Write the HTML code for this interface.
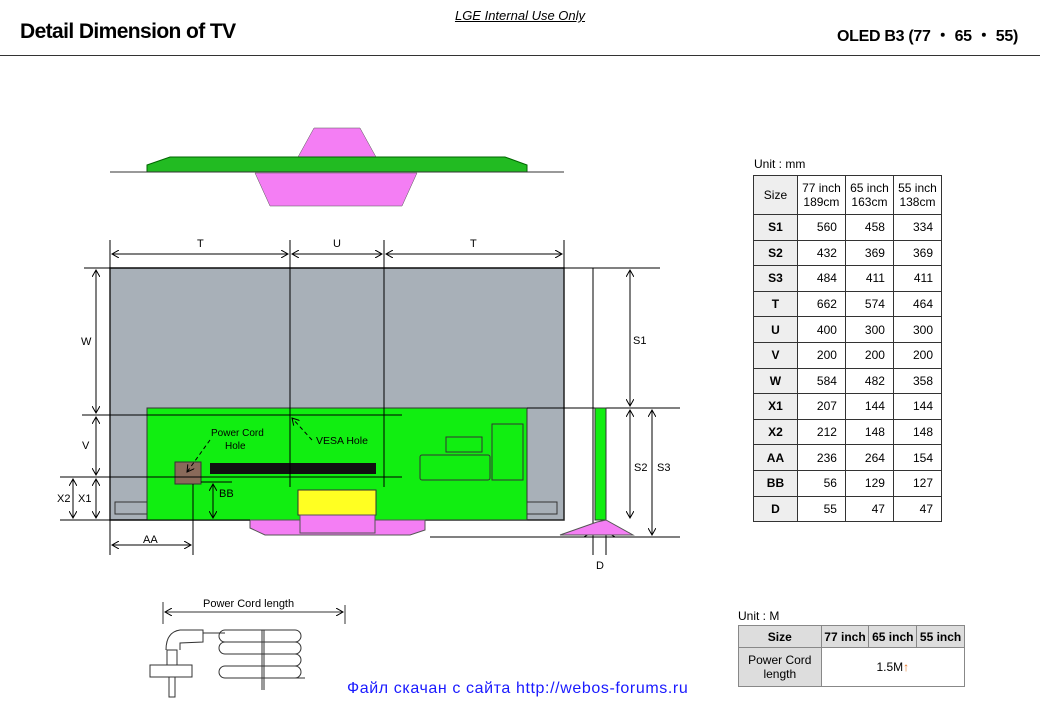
<!DOCTYPE html>
<html><head><meta charset="utf-8"><style>
body{margin:0;width:1040px;height:702px;background:#fff;position:relative;overflow:hidden;font-family:"Liberation Sans",sans-serif}
.a{position:absolute}
table{border-collapse:collapse;position:absolute;font-size:12px;font-family:"Liberation Sans",sans-serif}
td{border:1.5px solid #333;padding:0;text-align:center}
.t1 td{height:24.6px}
.t1 td.n{text-align:right;padding-right:8px}
.g{background:#eee;font-weight:bold}
</style></head><body>
<div class="a" style="left:450px;top:8px;width:140px;text-align:center;font-size:13px;font-style:italic;text-decoration:underline">LGE Internal Use Only</div>
<div class="a" style="left:20px;top:20px;font-size:21px;font-weight:bold;letter-spacing:-0.6px">Detail Dimension of TV</div>
<div class="a" style="right:22px;top:22px;font-size:16px;font-weight:bold;letter-spacing:-0.3px">OLED B3 (77 ・ 65 ・ 55)</div>
<div class="a" style="left:0;top:55px;width:1040px;height:1px;background:#333"></div>

<svg class="a" style="left:0;top:0" width="1040" height="702" font-family="Liberation Sans,sans-serif" font-size="11">
<defs><marker id="ar" markerWidth="8" markerHeight="8" refX="7" refY="4" orient="auto-start-reverse"><path d="M0,0 L7,4 L0,8" fill="none" stroke="#000" stroke-width="1"/></marker></defs>
<polygon points="314,128 360,128 376,157 298,157" fill="#f47ef4" stroke="#555" stroke-width="0.5"/>
<polygon points="147,165 170,157 505,157 527,165 527,172 147,172" fill="#22bb22" stroke="#060" stroke-width="1"/>
<line x1="110" y1="172" x2="564" y2="172" stroke="#333"/>
<polygon points="255,173 417,173 402,206 270,206" fill="#f47ef4" stroke="#555" stroke-width="0.5"/>
<rect x="110" y="268" width="454" height="252" fill="#a8b0b8" stroke="#222" stroke-width="1.5"/>
<rect x="115" y="502" width="32" height="12" fill="#a8b0b8" stroke="#333"/>
<rect x="527" y="502" width="30" height="12" fill="#a8b0b8" stroke="#333"/>
<rect x="147" y="408" width="380" height="112" fill="#11ee11" stroke="#333"/>
<rect x="175" y="462" width="26" height="22" fill="#8a6a5a" stroke="#333"/>
<rect x="210" y="463" width="166" height="11" fill="#111"/>
<rect x="420" y="455" width="70" height="25" rx="2" fill="none" stroke="#333"/>
<rect x="446" y="437" width="36" height="15" fill="none" stroke="#333"/>
<rect x="492" y="424" width="31" height="56" fill="none" stroke="#333"/>
<rect x="298" y="490" width="78" height="25" fill="#ffff22" stroke="#333"/>
<polygon points="250,520 425,520 425,530 410,535 265,535 250,528" fill="#f47ef4" stroke="#555"/>
<rect x="300" y="515" width="75" height="18" fill="#f47ef4" stroke="#555"/>
<g stroke="#000" stroke-width="1" fill="none">
<line x1="110" y1="240" x2="110" y2="268"/><line x1="564" y1="240" x2="564" y2="268"/>
<line x1="290" y1="240" x2="290" y2="487"/><line x1="384" y1="240" x2="384" y2="487"/>
<line x1="112" y1="254" x2="288" y2="254" marker-start="url(#ar)" marker-end="url(#ar)"/>
<line x1="292" y1="254" x2="382" y2="254" marker-start="url(#ar)" marker-end="url(#ar)"/>
<line x1="386" y1="254" x2="562" y2="254" marker-start="url(#ar)" marker-end="url(#ar)"/>
<line x1="84" y1="268" x2="660" y2="268"/>
<line x1="527" y1="408" x2="680" y2="408"/>
<line x1="82" y1="415" x2="402" y2="415"/>
<line x1="60" y1="477" x2="402" y2="477"/>
<line x1="201" y1="482" x2="232" y2="482"/>
<line x1="60" y1="520" x2="250" y2="520"/>
<line x1="430" y1="537" x2="680" y2="537"/>
<line x1="96" y1="270" x2="96" y2="413" marker-start="url(#ar)" marker-end="url(#ar)"/>
<line x1="96" y1="417" x2="96" y2="475" marker-start="url(#ar)" marker-end="url(#ar)"/>
<line x1="96" y1="479" x2="96" y2="518" marker-start="url(#ar)" marker-end="url(#ar)"/>
<line x1="73" y1="479" x2="73" y2="518" marker-start="url(#ar)" marker-end="url(#ar)"/>
<line x1="213" y1="484" x2="213" y2="518" marker-start="url(#ar)" marker-end="url(#ar)"/>
<line x1="110" y1="520" x2="110" y2="555"/><line x1="193" y1="484" x2="193" y2="555"/>
<line x1="112" y1="545" x2="191" y2="545" marker-start="url(#ar)" marker-end="url(#ar)"/>
<line x1="593" y1="268" x2="593" y2="555"/>
<line x1="606" y1="520" x2="606" y2="555"/>
<line x1="630" y1="270" x2="630" y2="406" marker-start="url(#ar)" marker-end="url(#ar)"/>
<line x1="630" y1="410" x2="630" y2="518" marker-start="url(#ar)" marker-end="url(#ar)"/>
<line x1="652" y1="410" x2="652" y2="535" marker-start="url(#ar)" marker-end="url(#ar)"/>
<line x1="570" y1="533" x2="591" y2="533" marker-end="url(#ar)"/>
<line x1="630" y1="533" x2="608" y2="533" marker-end="url(#ar)"/>
<line x1="312" y1="440" x2="292" y2="418" stroke-dasharray="4,3" marker-end="url(#ar)"/>
<line x1="210" y1="440" x2="187" y2="472" stroke-dasharray="4,3" marker-end="url(#ar)"/>
</g>
<rect x="595" y="408" width="11" height="112" fill="#11ee11" stroke="#333"/>
<polygon points="560,535 597,522 606,520 633,535" fill="#f47ef4" stroke="#555"/>
<g fill="#000">
<text x="197" y="247">T</text><text x="333" y="247">U</text><text x="470" y="247">T</text>
<text x="81" y="345">W</text><text x="82" y="449">V</text><text x="78" y="502">X1</text><text x="57" y="502">X2</text>
<text x="143" y="543">AA</text><text x="219" y="497">BB</text>
<text x="633" y="344">S1</text><text x="634" y="471">S2</text><text x="657" y="471">S3</text>
<text x="596" y="569">D</text>
<text x="316" y="444" font-size="10.5">VESA Hole</text>
<text x="211" y="436" font-size="10">Power Cord</text><text x="225" y="449" font-size="10">Hole</text>
<text x="203" y="607" font-size="11">Power Cord length</text>
</g>
<g stroke="#333" fill="none" stroke-width="1">
<line x1="163" y1="602" x2="163" y2="624"/><line x1="345" y1="605" x2="345" y2="624"/>
<line x1="165" y1="612" x2="343" y2="612" marker-start="url(#ar)" marker-end="url(#ar)"/>
<path d="M166,650 Q166,632 180,630 L203,630 L203,642 L180,643 L180,650"/>
<rect x="150" y="665" width="42" height="12"/>
<rect x="167" y="650" width="10" height="15"/><rect x="169" y="677" width="6" height="20"/>
<line x1="203" y1="633" x2="225" y2="633"/>
<path d="M225,630 h70 a6,6 0 0 1 0,12 h-70 a6,6 0 0 1 0,-12 M225,642 h70 a6,6 0 0 1 0,12 h-70 a6,6 0 0 1 0,-12 M225,654 h70 a6,6 0 0 1 0,12 h-70 M225,666 h70 a6,6 0 0 1 0,12 h-70 a6,6 0 0 1 0,-12 M225,678 h80"/>
<line x1="262" y1="630" x2="262" y2="690"/><line x1="264" y1="630" x2="264" y2="690"/>
</g>
</svg>

<div class="a" style="left:754px;top:157px;font-size:12px">Unit : mm</div>
<table class="t1" style="left:753px;top:175px;width:189px">
<tr><td class="g" style="height:38px;width:42px;font-weight:normal">Size</td><td style="width:46px">77 inch<br>189cm</td><td style="width:46px">65 inch<br>163cm</td><td style="width:46px">55 inch<br>138cm</td></tr>
<tr><td class="g">S1</td><td class="n">560</td><td class="n">458</td><td class="n">334</td></tr>
<tr><td class="g">S2</td><td class="n">432</td><td class="n">369</td><td class="n">369</td></tr>
<tr><td class="g">S3</td><td class="n">484</td><td class="n">411</td><td class="n">411</td></tr>
<tr><td class="g">T</td><td class="n">662</td><td class="n">574</td><td class="n">464</td></tr>
<tr><td class="g">U</td><td class="n">400</td><td class="n">300</td><td class="n">300</td></tr>
<tr><td class="g">V</td><td class="n">200</td><td class="n">200</td><td class="n">200</td></tr>
<tr><td class="g">W</td><td class="n">584</td><td class="n">482</td><td class="n">358</td></tr>
<tr><td class="g">X1</td><td class="n">207</td><td class="n">144</td><td class="n">144</td></tr>
<tr><td class="g">X2</td><td class="n">212</td><td class="n">148</td><td class="n">148</td></tr>
<tr><td class="g">AA</td><td class="n">236</td><td class="n">264</td><td class="n">154</td></tr>
<tr><td class="g">BB</td><td class="n">56</td><td class="n">129</td><td class="n">127</td></tr>
<tr><td class="g">D</td><td class="n">55</td><td class="n">47</td><td class="n">47</td></tr>
</table>

<div class="a" style="left:738px;top:609px;font-size:12px">Unit : M</div>
<table style="left:738px;top:625px;width:227px;border:1.5px solid #777">
<tr style="background:#ddd;font-weight:bold"><td style="width:82px;height:21px;border-color:#888">Size</td><td style="width:47px;border-color:#888">77 inch</td><td style="width:47px;border-color:#888">65 inch</td><td style="width:47px;border-color:#888">55 inch</td></tr>
<tr><td style="background:#ddd;height:38px;border-color:#888">Power Cord<br>length</td><td colspan="3" style="border-color:#888">1.5M<span style="color:#e07020">↑</span></td></tr>
</table>

<div class="a" style="left:347px;top:680px;font-size:16px;letter-spacing:0.6px;color:#1a1aff">Файл скачан с сайта http://webos-forums.ru</div>
</body></html>
